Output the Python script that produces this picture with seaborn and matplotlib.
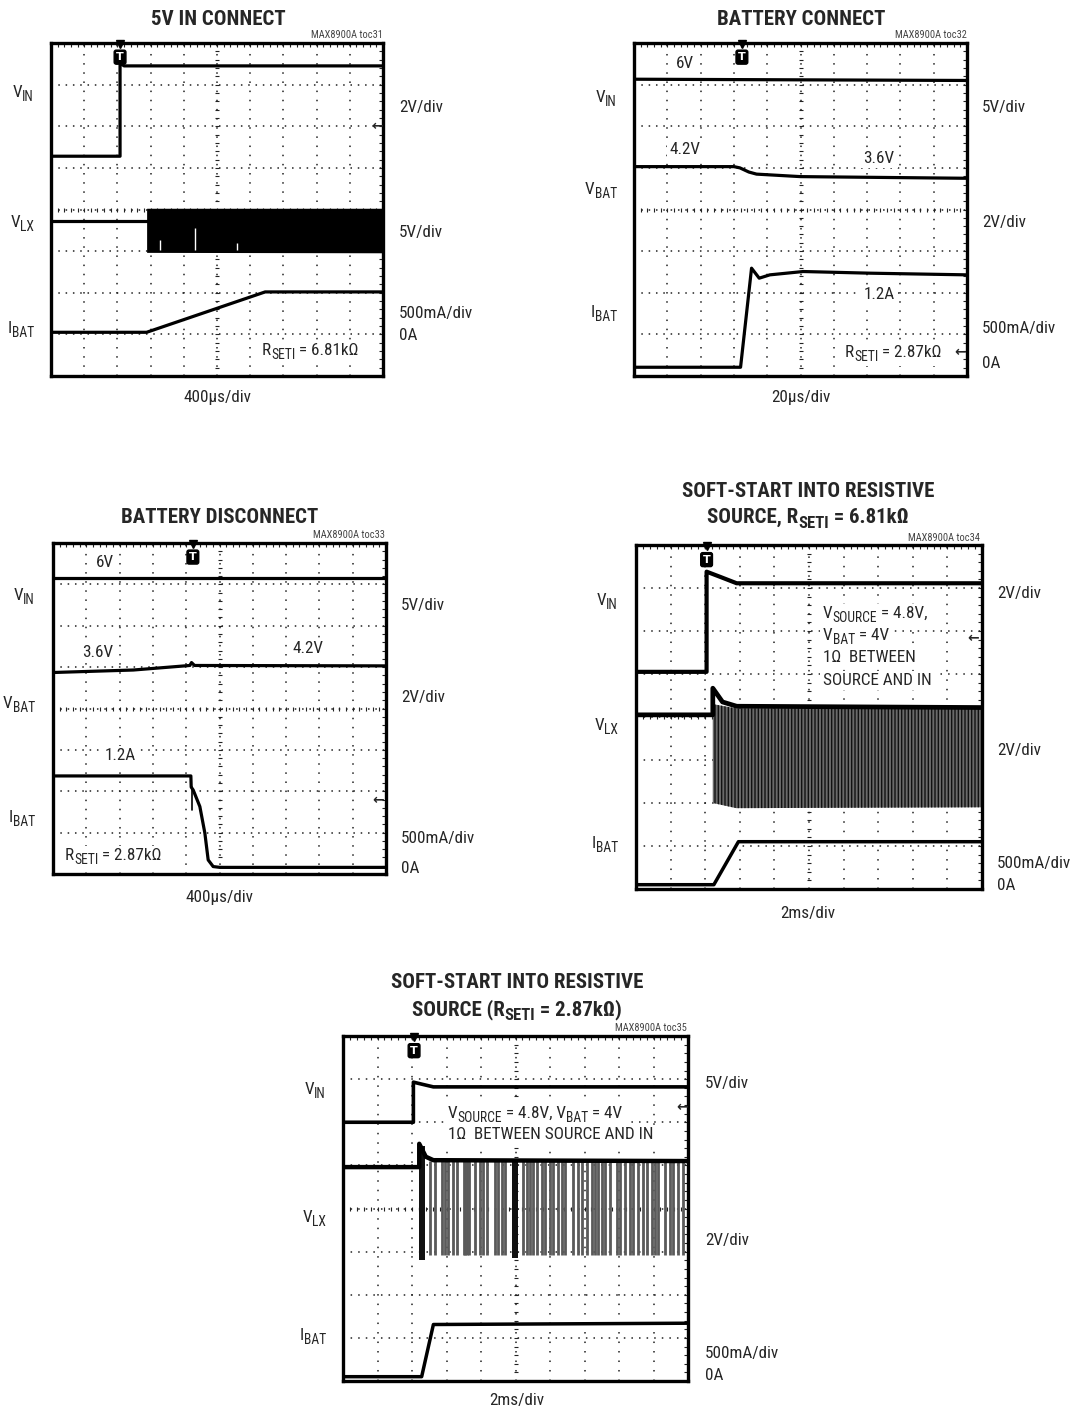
import re
import numpy as np
import matplotlib
matplotlib.use('Agg')
import matplotlib.pyplot as plt
from matplotlib import font_manager as fm
from matplotlib.patches import Rectangle
from matplotlib.ticker import MultipleLocator
import seaborn as sns

W, H = 1075, 1411

# ---------------- data, in scope divisions (x 0..10, y 0..8) ----------------
# toc31  5V IN CONNECT
p1_vin_x = [0, 2.08, 2.08, 2.2, 10]
p1_vin_y = [5.28, 5.28, 7.52, 7.45, 7.45]
p1_vlx_x = [0, 2.88]
p1_vlx_y = [3.72, 3.72]
p1_burst_x = [2.88, 10]
p1_burst_lo = [2.97, 2.96]
p1_burst_hi = [4.03, 4.03]
p1_gap_x = [3.28, 4.34, 5.6]
p1_gap_top = [3.26, 3.55, 3.2]
p1_ibat_x = [0, 2.88, 6.45, 10]
p1_ibat_y = [1.05, 1.05, 2.02, 2.02]

# toc32  BATTERY CONNECT
p2_vin_x = [0, 10]
p2_vin_y = [7.13, 7.1]
p2_vbat_x = [0, 3.0, 3.18, 3.45, 3.68, 5.0, 10]
p2_vbat_y = [5.03, 5.03, 5.0, 4.9, 4.85, 4.79, 4.75]
p2_ibat_x = [0, 3.2, 3.53, 3.76, 4.08, 5.08, 7.09, 10]
p2_ibat_y = [0.21, 0.21, 2.59, 2.35, 2.43, 2.51, 2.47, 2.43]

# toc33  BATTERY DISCONNECT
p3_vin_x = [0, 10]
p3_vin_y = [7.16, 7.16]
p3_vbat_x = [0, 2.41, 4.11, 4.16, 4.25, 10]
p3_vbat_y = [4.87, 4.93, 5.04, 5.11, 5.04, 5.03]
p3_ibat_x = [0, 4.14, 4.15, 4.21, 4.41, 4.56, 4.66, 4.81, 5.01, 10]
p3_ibat_y = [2.37, 2.37, 2.1, 2.03, 1.63, 0.99, 0.34, 0.18, 0.16, 0.16]
p3_glitch_x = [4.17, 4.17]
p3_glitch_y = [2.1, 1.55]

# toc34  SOFT-START, RSETI = 6.81k
p4_vin_x = [0, 2.04, 2.04, 2.43, 2.91, 10]
p4_vin_y = [5.05, 5.05, 7.38, 7.26, 7.11, 7.11]
p4_vlx_x = [0, 2.22, 2.22, 2.5, 2.91, 10]
p4_vlx_y = [4.05, 4.05, 4.67, 4.35, 4.25, 4.22]
p4_burst_x = [2.22, 2.9, 10]
p4_burst_lo = [2.0, 1.88, 1.9]
p4_burst_hi = [4.3, 4.2, 4.2]
p4_ibat_x = [0, 2.25, 2.96, 10]
p4_ibat_y = [0.1, 0.1, 1.1, 1.1]

# toc35  SOFT-START, RSETI = 2.87k
p5_vin_x = [0, 2.04, 2.04, 2.3, 2.62, 10]
p5_vin_y = [6.0, 6.0, 6.93, 6.88, 6.82, 6.82]
p5_vlx_x = [0, 2.21, 2.21, 2.4, 2.62, 10]
p5_vlx_y = [4.96, 4.96, 5.5, 5.2, 5.12, 5.1]
p5_block_x = [[2.19, 2.38], [4.89, 5.08]]
p5_block_lo = [2.8, 2.85]
p5_block_hi = [5.45, 5.12]
p5_spike_x = [2.52, 2.67, 2.86, 2.96, 3.05, 3.2, 3.3, 3.5, 3.55, 3.6, 3.65,
              3.83, 3.97, 4.07, 4.17, 4.41, 4.5, 4.6, 4.7, 5.23, 5.32, 5.42,
              5.52, 5.61, 5.76, 5.86, 6.0, 6.1, 6.24, 6.34, 6.43, 6.68, 6.82,
              6.92, 7.06, 7.21, 7.3, 7.4, 7.5, 7.59, 7.74, 7.93, 8.03, 8.17,
              8.32, 8.41, 8.56, 8.7, 8.8, 8.95, 9.04, 9.14, 9.33, 9.48, 9.57,
              9.72, 9.86]
p5_spike_lo = 2.92
p5_spike_hi = 5.1
p5_ibat_x = [0, 2.28, 2.62, 10]
p5_ibat_y = [0.1, 0.1, 1.31, 1.34]

# trigger (x) and ground-reference arrow (x, y) per scope
trig_x = [2.08, 3.24, 4.2, 2.04, 2.06]
arrow_x = [9.82, 9.79, 9.76, 9.74, 9.82]
arrow_y = [6.0, 0.57, 1.8, 5.84, 6.36]

# ---------------- style ----------------
sns.set_style('white')
names = {f.name for f in fm.fontManager.ttflist}
FONT, k = 'Liberation Sans', 0.84
for cand in ['Roboto Condensed', 'Archivo Narrow', 'PT Sans Narrow', 'Liberation Sans Narrow']:
    if cand in names:
        FONT, k = cand, 1.0
        break
plt.rcParams['font.family'] = [FONT, 'DejaVu Sans']
plt.rcParams['hatch.linewidth'] = 1.0

FS = 12.3 * k
TFS = 15.0 * k

fig = plt.figure(figsize=(W / 100, H / 100), dpi=100)
renderer = fig.canvas.get_renderer()


def rich(x, y, s, size=FS, ha='left', weight='normal', box=False, **kw):
    # text with "_{...}" subscripts, placed at pixel (x, baseline y)
    parts = []
    for i, piece in enumerate(re.split(r'_\{([^}]*)\}', s)):
        if piece:
            parts.append((piece, i % 2 == 1))
    objs = []
    for piece, sub in parts:
        fs = size * 0.8 if sub else size
        t = fig.text(0, 0, piece, fontsize=fs, fontweight=weight, va='baseline',
                     ha='left', zorder=4, **kw)
        objs.append((t, sub, t.get_window_extent(renderer=renderer).width))
    total = sum(o[2] for o in objs)
    cur = {'left': x, 'right': x - total, 'center': x - total / 2}[ha]
    for t, sub, w in objs:
        yy = y + (size * 0.3 if sub else 0)
        t.set_position((cur / W, 1 - yy / H))
        cur += w
    if box:
        ext = [t.get_window_extent(renderer=renderer) for t, _, _ in objs]
        x0 = min(e.x0 for e in ext) - 3
        x1 = max(e.x1 for e in ext) + 3
        y0 = min(e.y0 for e in ext) - 2
        y1 = max(e.y1 for e in ext) + 2
        fig.patches.append(Rectangle((x0 / W, y0 / H), (x1 - x0) / W, (y1 - y0) / H,
                                     transform=fig.transFigure, fc='white', ec='none',
                                     zorder=3))


def scope(left, top, right, bottom):
    ax = fig.add_axes([left / W, 1 - bottom / H, (right - left) / W, (bottom - top) / H])
    dx = (right - left) / 50 * 0.72   # points per 0.2 div
    dy = (bottom - top) / 40 * 0.72
    ax.set_xticks(range(11))
    ax.set_yticks(range(9))
    ax.xaxis.set_minor_locator(MultipleLocator(0.2))
    ax.yaxis.set_minor_locator(MultipleLocator(0.2))
    ax.tick_params(which='both', direction='in', top=True, right=True, length=3,
                   width=0.8, color='#222', labelbottom=False, labelleft=False)
    ax.grid(axis='x', which='major', ls=(0, (1, dy - 1)), lw=1.1, color='#222')
    ax.grid(axis='y', which='major', ls=(0, (1, dx - 1)), lw=1.1, color='#222')
    xx = np.arange(0, 10.001, 0.2)
    yy = np.arange(0, 8.001, 0.2)
    ax.plot(xx, [4] * len(xx), ls='none', marker='|', ms=3, mew=0.8, color='#222')
    ax.plot([5] * len(yy), yy, ls='none', marker='_', ms=3, mew=0.8, color='#222')
    for s in ax.spines.values():
        s.set_linewidth(2.4)
        s.set_color('k')
    return ax


def trace(ax, x, y, lw=2.3, color='k'):
    sns.lineplot(x=x, y=y, ax=ax, color=color, linewidth=lw,
                 estimator=None, sort=False, legend=False)


def marks(ax, i):
    ax.plot(trig_x[i], 7.97, marker='v', ms=5.5, color='k', clip_on=False, zorder=6)
    ax.text(trig_x[i], 7.66, 'T', ha='center', va='center', color='white',
            fontsize=8, fontweight='bold', family='DejaVu Sans', zorder=6,
            bbox=dict(boxstyle='round,pad=0.18', fc='k', ec='k'))
    ax.text(arrow_x[i], arrow_y[i], '←', ha='center', va='center',
            fontsize=10, family='DejaVu Sans', fontweight='bold')


def small(x, y, s):
    fig.text(x / W, 1 - y / H, s, fontsize=7.5, color='#444', ha='right', va='baseline')


axes = []

# ---- toc31 ----
ax = scope(51, 43, 383, 376)
axes.append(ax)
trace(ax, p1_vin_x, p1_vin_y)
trace(ax, p1_vlx_x, p1_vlx_y)
ax.fill_between(p1_burst_x, p1_burst_lo, p1_burst_hi, color='k', lw=0, zorder=3)
ax.vlines(p1_gap_x, p1_burst_lo[0] + 0.05, p1_gap_top, color='white', lw=1, zorder=4)
trace(ax, p1_ibat_x, p1_ibat_y)
marks(ax, 0)
rich(218, 25, '5V IN CONNECT', size=TFS, weight='bold', ha='center')
small(383, 38, 'MAX8900A toc31')
rich(34, 97, 'V_{IN}', ha='right')
rich(34, 227, 'V_{LX}', ha='right')
rich(34, 333, 'I_{BAT}', ha='right')
rich(399, 112, '2V/div')
rich(399, 237, '5V/div')
rich(399, 318, '500mA/div')
rich(399, 340, '0A')
rich(262, 355, 'R_{SETI} = 6.81kΩ', box=True)
rich(218, 402, '400µs/div', ha='center')

# ---- toc32 ----
ax = scope(634, 43, 967, 376)
axes.append(ax)
trace(ax, p2_vin_x, p2_vin_y)
trace(ax, p2_vbat_x, p2_vbat_y)
trace(ax, p2_ibat_x, p2_ibat_y)
marks(ax, 1)
rich(801, 25, 'BATTERY CONNECT', size=TFS, weight='bold', ha='center')
small(967, 38, 'MAX8900A toc32')
rich(617, 102, 'V_{IN}', ha='right')
rich(617, 194, 'V_{BAT}', ha='right')
rich(617, 317, 'I_{BAT}', ha='right')
rich(982, 112, '5V/div')
rich(982, 227, '2V/div')
rich(982, 333, '500mA/div')
rich(982, 368, '0A')
rich(685, 68, '6V', ha='center', box=True)
rich(685, 154, '4.2V', ha='center', box=True)
rich(879, 163, '3.6V', ha='center', box=True)
rich(879, 299, '1.2A', ha='center', box=True)
rich(845, 357, 'R_{SETI} = 2.87kΩ', box=True)
rich(801, 402, '20µs/div', ha='center')

# ---- toc33 ----
ax = scope(53, 543, 386, 874)
axes.append(ax)
trace(ax, p3_vin_x, p3_vin_y)
trace(ax, p3_vbat_x, p3_vbat_y)
trace(ax, p3_ibat_x, p3_ibat_y)
trace(ax, p3_glitch_x, p3_glitch_y, lw=1.2)
marks(ax, 2)
rich(220, 523, 'BATTERY DISCONNECT', size=TFS, weight='bold', ha='center')
small(385, 538, 'MAX8900A toc33')
rich(35, 600, 'V_{IN}', ha='right')
rich(35, 708, 'V_{BAT}', ha='right')
rich(35, 822, 'I_{BAT}', ha='right')
rich(401, 610, '5V/div')
rich(401, 702, '2V/div')
rich(401, 843, '500mA/div')
rich(401, 873, '0A')
rich(105, 567, '6V', ha='center', box=True)
rich(98, 657, '3.6V', ha='center', box=True)
rich(308, 653, '4.2V', ha='center', box=True)
rich(120, 760, '1.2A', ha='center', box=True)
rich(65, 860, 'R_{SETI} = 2.87kΩ', box=True)
rich(220, 902, '400µs/div', ha='center')

# ---- toc34 ----
ax = scope(636, 545, 982, 889)
axes.append(ax)
trace(ax, p4_vin_x, p4_vin_y, lw=3.0)
ax.fill_between(p4_burst_x, p4_burst_lo, p4_burst_hi, facecolor='#6a6a6a',
                edgecolor='#111', hatch='|||||', lw=0, zorder=2)
trace(ax, p4_vlx_x, p4_vlx_y, lw=3.4)
trace(ax, p4_ibat_x, p4_ibat_y, lw=2.5)
marks(ax, 3)
rich(808, 497, 'SOFT-START INTO RESISTIVE', size=TFS, weight='bold', ha='center')
rich(808, 523, 'SOURCE, R_{SETI} = 6.81kΩ', size=TFS, weight='bold', ha='center')
small(980, 541, 'MAX8900A toc34')
rich(618, 605, 'V_{IN}', ha='right')
rich(618, 730, 'V_{LX}', ha='right')
rich(618, 848, 'I_{BAT}', ha='right')
rich(997, 598, '2V/div')
rich(997, 755, '2V/div')
rich(997, 868, '500mA/div')
rich(997, 890, '0A')
rich(823, 618, 'V_{SOURCE} = 4.8V,', box=True)
rich(823, 640, 'V_{BAT} = 4V', box=True)
rich(823, 662, '1Ω  BETWEEN', box=True)
rich(823, 685, 'SOURCE AND IN', box=True)
rich(808, 918, '2ms/div', ha='center')

# ---- toc35 ----
ax = scope(343, 1036, 688, 1381)
axes.append(ax)
trace(ax, p5_vin_x, p5_vin_y, lw=2.6)
ax.vlines(p5_spike_x, p5_spike_lo, p5_spike_hi, color='#5a5a5a', lw=2.0, zorder=2)
for bx, lo, hi in zip(p5_block_x, p5_block_lo, p5_block_hi):
    ax.fill_between(bx, lo, hi, color='#111', lw=0, zorder=2)
trace(ax, p5_vlx_x, p5_vlx_y, lw=3.2)
trace(ax, p5_ibat_x, p5_ibat_y, lw=2.5)
marks(ax, 4)
rich(517, 988, 'SOFT-START INTO RESISTIVE', size=TFS, weight='bold', ha='center')
rich(517, 1015, 'SOURCE (R_{SETI} = 2.87kΩ)', size=TFS, weight='bold', ha='center')
small(687, 1031, 'MAX8900A toc35')
rich(326, 1094, 'V_{IN}', ha='right')
rich(326, 1222, 'V_{LX}', ha='right')
rich(326, 1340, 'I_{BAT}', ha='right')
rich(705, 1088, '5V/div')
rich(705, 1245, '2V/div')
rich(705, 1358, '500mA/div')
rich(705, 1380, '0A')
rich(448, 1118, 'V_{SOURCE} = 4.8V, V_{BAT} = 4V', box=True)
rich(448, 1139, '1Ω  BETWEEN SOURCE AND IN', box=True)
rich(517, 1405, '2ms/div', ha='center')

for ax in axes:
    ax.set_xlim(0, 10)
    ax.set_ylim(0, 8)
    ax.set_xlabel('')
    ax.set_ylabel('')

fig.savefig('out.png', dpi=100)
